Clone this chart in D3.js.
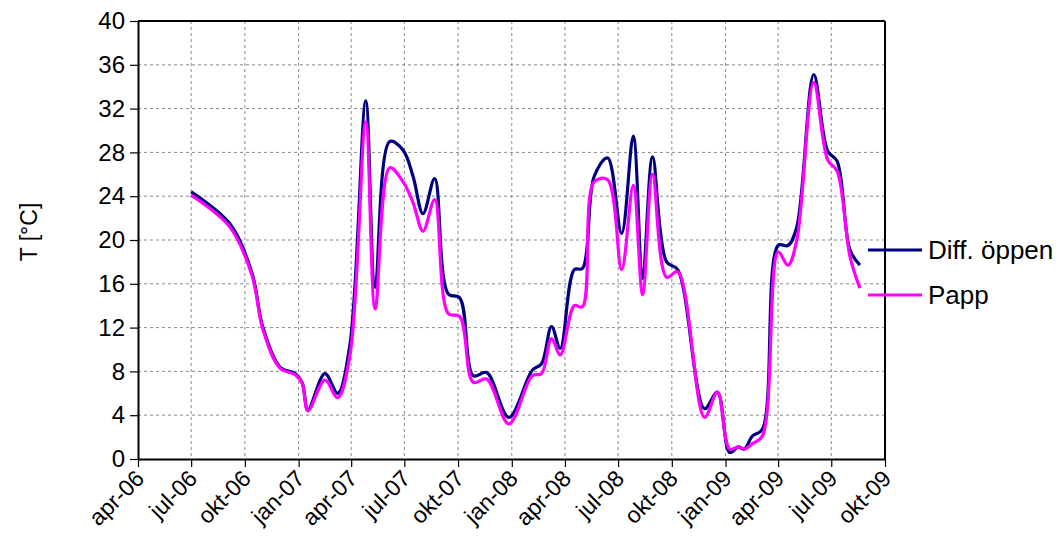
<!DOCTYPE html>
<html>
<head>
<meta charset="utf-8">
<script src="https://cdn.jsdelivr.net/npm/d3@7"></script>
<style>
  body { margin: 0; background: #fff; }
  svg { display: block; font-family: "Liberation Sans", Arial, sans-serif; }
</style>
</head>
<body>
<svg id="chart" width="1061" height="551"></svg>
<script>
const dates = ["2006-07-01","2006-09-05","2006-10-13","2006-11-01","2006-11-30","2006-12-26","2007-01-07","2007-01-17","2007-02-15","2007-03-09","2007-03-30","2007-04-26","2007-05-12","2007-06-06","2007-06-29","2007-07-16","2007-08-02","2007-08-22","2007-09-14","2007-10-04","2007-10-27","2007-11-19","2007-12-27","2008-02-05","2008-02-21","2008-03-09","2008-03-24","2008-04-17","2008-05-01","2008-05-21","2008-06-13","2008-07-07","2008-07-27","2008-08-12","2008-08-29","2008-09-22","2008-10-11","2008-11-26","2008-12-18","2009-01-08","2009-01-23","2009-02-02","2009-02-16","2009-03-05","2009-04-01","2009-04-18","2009-05-03","2009-06-01","2009-06-25","2009-07-11","2009-08-02","2009-08-19"];
const diffOppen = [24.4,21.5,17.0,12.0,8.4,7.8,7.0,4.5,7.8,6.0,10.5,32.7,15.7,29.0,28.2,25.8,22.4,25.6,15.1,14.7,7.6,7.9,3.8,8.1,8.7,12.1,10.1,17.3,17.4,25.8,27.5,20.6,29.5,16.5,27.6,18.0,17.3,4.6,6.1,0.6,1.1,0.9,2.1,2.7,19.5,19.5,21.2,35.1,28.1,27.2,19.1,17.7];
const papp = [24.1,21.2,16.8,11.8,8.3,7.7,6.9,4.4,7.2,5.6,9.5,30.8,13.7,26.6,25.3,23.4,20.8,23.7,13.3,13.0,7.0,7.3,3.2,7.6,7.8,11.0,9.5,14.0,13.9,25.3,25.5,17.3,25.0,15.0,26.0,16.6,17.1,3.8,6.1,0.9,1.1,0.9,1.4,2.1,18.9,17.7,20.0,34.4,27.3,26.3,18.5,15.6];
const xTickLabels = ["apr-06","jul-06","okt-06","jan-07","apr-07","jul-07","okt-07","jan-08","apr-08","jul-08","okt-08","jan-09","apr-09","jul-09","okt-09"];
const yTicks = [0,4,8,12,16,20,24,28,32,36,40];
const seriesNames = ["Diff. öppen","Papp"];
const seriesColors = ["#000080","#FF00FF"];

const svg = d3.select("#chart");
const L = 138, R = 885, T = 21, B = 459;
const FONT = "Liberation Sans, Arial, sans-serif";
const parse = d3.timeParse("%Y-%m-%d");
const tickDates = d3.timeMonth.every(3).range(new Date(2006,3,1), new Date(2009,9,2));
const x = d3.scaleTime().domain([new Date(2006,3,1), new Date(2009,9,1)]).range([L, R]);
const y = d3.scaleLinear().domain([0, 40]).range([B, T]);

// grid
const g = svg.append("g");
g.selectAll(".hg").data(yTicks.filter(d => d > 0 && d < 40)).enter().append("line")
  .attr("x1", L).attr("x2", R).attr("y1", d => y(d)).attr("y2", d => y(d))
  .attr("stroke", "#8a8a8a").attr("stroke-width", 1).attr("stroke-dasharray", "3,3");
g.selectAll(".vg").data(tickDates.slice(1, -1)).enter().append("line")
  .attr("x1", d => x(d)).attr("x2", d => x(d)).attr("y1", T).attr("y2", B)
  .attr("stroke", "#8a8a8a").attr("stroke-width", 1).attr("stroke-dasharray", "3,3");

// lines
const seriesData = [diffOppen, papp];
const line = d3.line().x(d => x(d[0])).y(d => y(d[1])).curve(d3.curveCatmullRom.alpha(0.5));
seriesData.forEach((vals, i) => {
  const pts = dates.map((d, j) => [parse(d), vals[j]]);
  svg.append("path").datum(pts).attr("d", line)
    .attr("fill", "none").attr("stroke", seriesColors[i]).attr("stroke-width", 3.2)
    .attr("stroke-linejoin", "round");
});

// frame
svg.append("line").attr("x1", L).attr("x2", R).attr("y1", T).attr("y2", T).attr("stroke", "#000").attr("stroke-width", 2);
svg.append("line").attr("x1", R).attr("x2", R).attr("y1", T).attr("y2", B).attr("stroke", "#000").attr("stroke-width", 2);

// axes
const yAxis = d3.axisLeft(y).tickValues(yTicks).tickSize(8).tickSizeOuter(0).tickPadding(5);
const ya = svg.append("g").attr("transform", `translate(${L},0)`).call(yAxis);
ya.select(".domain").attr("stroke", "#000").attr("stroke-width", 2);
ya.selectAll(".tick line").attr("stroke", "#000").attr("stroke-width", 1.2);
ya.selectAll("text").attr("font-size", 24).attr("fill", "#000").attr("font-family", FONT);

const xAxis = d3.axisBottom(x).tickValues(tickDates).tickSize(8).tickSizeOuter(0)
  .tickFormat((d, i) => xTickLabels[i]);
const xa = svg.append("g").attr("transform", `translate(0,${B})`).call(xAxis);
xa.select(".domain").attr("stroke", "#000").attr("stroke-width", 2);
xa.selectAll(".tick line").attr("stroke", "#000").attr("stroke-width", 1.2);
xa.selectAll("text").attr("font-size", 23).attr("fill", "#000")
  .attr("font-family", FONT)
  .attr("text-anchor", "end").attr("dy", 0).attr("y", 0)
  .attr("transform", "translate(7,21) rotate(-45)");

// y title
svg.append("text").attr("transform", "translate(37,232) rotate(-90)")
  .attr("text-anchor", "middle").attr("font-size", 23).attr("fill", "#000")
  .attr("font-family", FONT).text("T [°C]");

// legend
const legY = [250, 295];
seriesNames.forEach((n, i) => {
  svg.append("line").attr("x1", 868).attr("x2", 922).attr("y1", legY[i]).attr("y2", legY[i])
    .attr("stroke", seriesColors[i]).attr("stroke-width", 3.2);
  svg.append("text").attr("x", 928).attr("y", legY[i]).attr("dy", "0.35em")
    .attr("font-size", 26).attr("fill", "#000").attr("font-family", FONT).text(n);
});
</script>
</body>
</html>
